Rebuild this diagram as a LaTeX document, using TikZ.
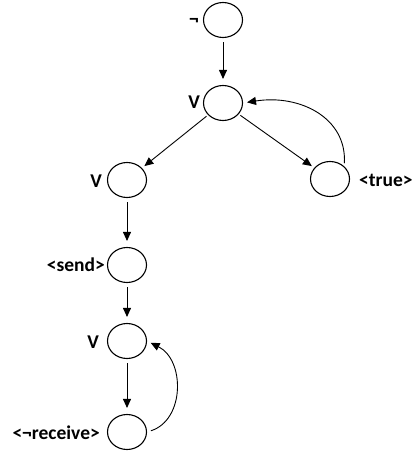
\documentclass[tikz,border=0pt]{standalone}
\usepackage{fontspec}
\setmainfont{Carlito}
\usetikzlibrary{arrows.meta,shapes.geometric}
\begin{document}
\begin{tikzpicture}[x=1pt,y=-1pt,
  st/.style={ellipse,draw,line width=1.1pt,minimum width=39pt,minimum height=35pt,inner sep=0pt},
  lab/.style={font=\bfseries\fontsize{19.5}{20}\selectfont,inner sep=0pt},
  arr/.style={line width=0.9pt,-{Triangle[length=9pt,width=8pt]},shorten >=6pt,shorten <=4pt}]
\useasboundingbox (0,0) rectangle (412,454);
\node[st] (n1) at (223,20) {};
\node[st] (n2) at (223,103) {};
\node[st] (n3) at (127,180) {};
\node[st] (n4) at (330,179) {};
\node[st] (n5) at (127,265) {};
\node[st] (n6) at (127,341) {};
\node[st] (n7) at (127,432) {};
\node[lab,anchor=east] (l1) at (199,22) {¬};
\node[lab,anchor=east] (l2) at (200,102) {V};
\node[lab,anchor=east] (l3) at (102,181) {V};
\node[lab,anchor=west] (l4) at (359,180) {<true>};
\node[lab,anchor=east] (l5) at (105,265) {<send>};
\node[lab,anchor=east] (l6) at (99,342) {V};
\node[lab,anchor=east] (l7) at (100,433) {<¬receive>};
\draw[arr] (n1) -- (n2);
\draw[arr,shorten <=2pt,shorten >=3pt] (n2) -- (n3);
\draw[arr,shorten <=2pt,shorten >=3pt] (n2) -- (n4);
\draw[arr] (n3) -- (n5);
\draw[arr] (n5) -- (n6);
\draw[arr] (n6) -- (n7);
\draw[arr,shorten <=3pt,shorten >=4pt] (n4.north east) .. controls (347,118) and (300,94) .. (n2.east);
\draw[arr,shorten <=4pt,shorten >=4pt] (n7.east) .. controls (185,420) and (185,360) .. (n6.east);
\end{tikzpicture}
\end{document}
